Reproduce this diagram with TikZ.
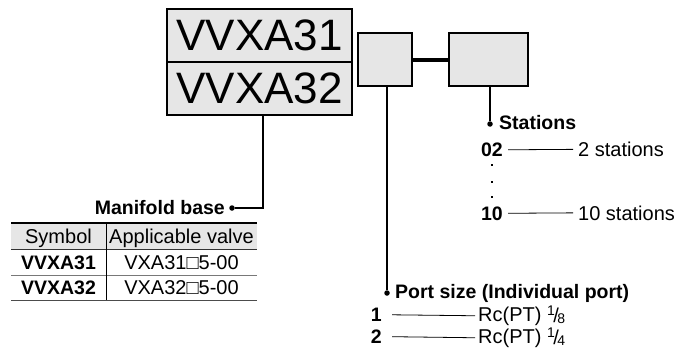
\documentclass[tikz,border=0pt]{standalone}
\usepackage{fontspec}
\setmainfont{Liberation Sans}
\usetikzlibrary{calc}

\definecolor{boxgray}{RGB}{230,230,230}
\definecolor{rulegray}{RGB}{120,120,120}

\newcommand{\portfrac}[2]{\raisebox{6pt}{\fontsize{14}{14}\selectfont #1}\kern-1.5pt
  \raisebox{-1pt}{\fontsize{20}{20}\selectfont /}\kern-1.5pt
  \raisebox{-1.5pt}{\fontsize{14}{14}\selectfont #2}}

\begin{document}
\begin{tikzpicture}[
  x=1pt, y=-1pt,
  font=\fontsize{20}{22}\selectfont,
  part/.style={draw=black, line width=1.7pt, fill=boxgray, inner sep=0pt},
  bigcode/.style={part, minimum width=185pt, minimum height=53pt,
    font=\fontsize{44}{48}\selectfont},
  lead/.style={line width=1.5pt},
  tip/.style={circle, fill=black, inner sep=0pt, minimum size=5.5pt},
  heading/.style={font=\fontsize{19.5}{22}\selectfont\bfseries, inner sep=0pt},
  code/.style={font=\fontsize{19.5}{22}\selectfont\bfseries, inner sep=0pt},
  item/.style={inner sep=0pt},
  dash line/.style={line width=.8pt},
  cell/.style={inner sep=0pt, anchor=base}
]

\useasboundingbox (0,0) rectangle (677,348);

% Model code boxes
\node[bigcode] (vvxa31) at (259.5,35.5) {VVXA31};
\node[bigcode] (vvxa32) at (259.5,88.5) {VVXA32};

\node[part, minimum width=54pt, minimum height=53pt] (portbox) at (385,59.5) {};
\node[part, minimum width=79pt, minimum height=53pt] (stnbox) at (488.5,59.5) {};
\draw[line width=4pt] (portbox.east) -- (stnbox.west);

% Manifold base
\node[tip] (mdot) at (232,208) {};
\coordinate (mbend) at (263,208);
\draw[lead] (mdot) -- (mbend) -- (mbend |- vvxa32.south);
\node[heading, anchor=base east] (mlabel) at (225,214) {Manifold base};

% Table of valves
\fill[boxgray] (11,223) rectangle (257,249.5);
\draw[line width=1.4pt] (11,223) -- (257,223);
\draw[line width=1pt, draw=black!80] (11,249.5) -- (257,249.5);
\draw[line width=.9pt, draw=rulegray] (11,275.5) -- (257,275.5);
\draw[line width=.9pt, draw=black!70] (11,300) -- (257,300);
\draw[line width=.8pt] (106,223) -- (106,300);

\node[cell] (tsym) at (58.5,243) {Symbol};
\node[cell] (tvalve) at (181.5,243) {Applicable valve};
\node[cell, font=\fontsize{19.5}{22}\selectfont\bfseries] (t31) at (58.5,269.5) {VVXA31};
\node[cell] (tv31) at (181.5,269.5) {VXA31□5-00};
\node[cell, font=\fontsize{19.5}{22}\selectfont\bfseries] (t32) at (58.5,294.5) {VVXA32};
\node[cell] (tv32) at (181.5,294.5) {VXA32□5-00};

% Stations
\node[tip] (sdot) at (490,124) {};
\draw[lead] (sdot) -- (sdot |- stnbox.south);
\node[heading, anchor=base west] (slabel) at (499,129.5) {Stations};

\node[code, anchor=base east] (s02) at (503,156.5) {02};
\node[item, anchor=base west] (s2) at (578,156.5) {2 stations};
\draw[dash line] ([xshift=5pt]s02.east) -- ([xshift=-5pt]s2.west);

\foreach \dy in {165,182,197}
  \fill (490.8,\dy-1.3) rectangle (493.2,\dy+1.3);

\node[code, anchor=base east] (s10) at (503,220) {10};
\node[item, anchor=base west] (s10t) at (578,220) {10 stations};
\draw[dash line] ([xshift=5pt]s10.east) -- ([xshift=-5pt]s10t.west);

% Port size
\node[tip] (pdot) at (387,293) {};
\draw[lead] (pdot) -- (pdot |- portbox.south);
\node[heading, anchor=base west] (plabel) at (395,298.5) {Port size (Individual port)};

\node[code, anchor=base east] (p1) at (382,321.5) {1};
\node[item, anchor=base west] (p1t) at (478,321.5) {Rc(PT) \portfrac{1}{8}};
\draw[dash line] ([xshift=10pt]p1.east) -- ([xshift=-3pt]p1t.west);

\node[code, anchor=base east] (p2) at (382,343.5) {2};
\node[item, anchor=base west] (p2t) at (478,343.5) {Rc(PT) \portfrac{1}{4}};
\draw[dash line] ([xshift=10pt]p2.east) -- ([xshift=-3pt]p2t.west);

\end{tikzpicture}
\end{document}
